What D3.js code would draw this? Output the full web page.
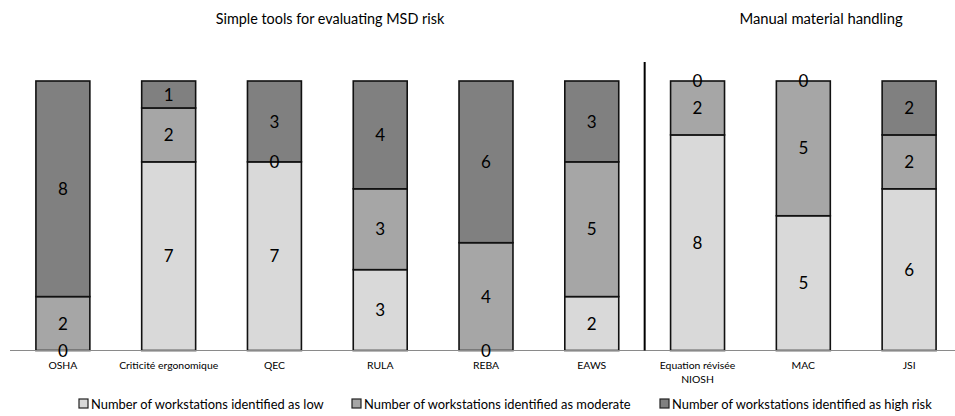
<!DOCTYPE html>
<html lang="en">
<head>
    <meta charset="UTF-8">
    <script src="https://cdn.jsdelivr.net/npm/d3@7"></script>
    <title>MSD risk tools</title>
    <style>
        body { margin: 0; background: white; }
        text { font-family: Lato, "Open Sans", sans-serif; fill: #000; }
    </style>
</head>
<body>
    <div id="chart"></div>
    <script>
        // data
        const tools = ["OSHA", "Criticité ergonomique", "QEC", "RULA", "REBA", "EAWS", "Equation révisée|NIOSH", "MAC", "JSI"];
        const lowCounts = [0, 7, 7, 3, 0, 2, 8, 5, 6];
        const moderateCounts = [2, 2, 0, 3, 4, 5, 2, 5, 2];
        const highCounts = [8, 1, 3, 4, 6, 3, 0, 0, 2];
        const seriesNames = [
            "Number of workstations identified as low",
            "Number of workstations identified as moderate",
            "Number of workstations identified as high risk"
        ];
        const groupTitles = ["Simple tools for evaluating MSD risk", "Manual material handling"];

        const width = 955, height = 416;
        const colors = ["#d9d9d9", "#a6a6a6", "#808080"];
        const keys = ["low", "moderate", "high"];

        const rows = tools.map((t, i) => ({
            tool: t, low: lowCounts[i], moderate: moderateCounts[i], high: highCounts[i]
        }));

        const svg = d3.select("#chart").append("svg")
            .attr("width", width)
            .attr("height", height);

        const x = d3.scaleBand()
            .domain(tools)
            .range([10, 962])
            .paddingInner(0.49)
            .paddingOuter(0.245);

        const y = d3.scaleLinear()
            .domain([0, 10])
            .range([350.5, 81]);

        const stacked = d3.stack().keys(keys)(rows);

        // bars
        const layers = svg.selectAll("g.layer")
            .data(stacked)
            .enter()
            .append("g")
            .attr("class", "layer")
            .attr("fill", (d, i) => colors[i]);

        layers.selectAll("rect")
            .data(d => d)
            .enter()
            .append("rect")
            .attr("x", d => x(d.data.tool))
            .attr("y", d => y(d[1]))
            .attr("width", x.bandwidth())
            .attr("height", d => y(d[0]) - y(d[1]))
            .attr("stroke", d => (d[1] - d[0]) > 0 ? "#111" : "none")
            .attr("stroke-width", 1.6);

        // axis line
        svg.append("line")
            .attr("x1", 10).attr("x2", width)
            .attr("y1", y(0)).attr("y2", y(0))
            .attr("stroke", "#8a8a8a")
            .attr("stroke-width", 1.2);

        // value labels, drawn after all bars so the zeros stay visible
        const labelGroups = svg.selectAll("g.labels")
            .data(stacked)
            .enter()
            .append("g")
            .attr("class", "labels");

        labelGroups.selectAll("text")
            .data(d => d)
            .enter()
            .append("text")
            .attr("x", d => x(d.data.tool) + x.bandwidth() / 2)
            .attr("y", d => (y(d[0]) + y(d[1])) / 2)
            .attr("dy", "0.36em")
            .attr("text-anchor", "middle")
            .attr("font-size", 17)
            .text(d => d[1] - d[0]);

        // divider between groups
        const divX = (x(tools[5]) + x.bandwidth() + x(tools[6])) / 2;
        svg.append("line")
            .attr("x1", divX).attr("x2", divX)
            .attr("y1", 62).attr("y2", y(0))
            .attr("stroke", "#000")
            .attr("stroke-width", 2);

        // group titles
        svg.append("text")
            .attr("x", 330).attr("y", 24)
            .attr("text-anchor", "middle")
            .attr("font-size", 14.4)
            .text(groupTitles[0]);
        svg.append("text")
            .attr("x", 821).attr("y", 24)
            .attr("text-anchor", "middle")
            .attr("font-size", 14.8)
            .text(groupTitles[1]);

        // category labels
        const catLabels = svg.selectAll("text.cat")
            .data(tools)
            .enter()
            .append("text")
            .attr("class", "cat")
            .attr("text-anchor", "middle")
            .attr("font-size", 10.4)
            .attr("y", 369);
        catLabels.each(function (d) {
            const parts = d.split("|");
            const cx = x(d) + x.bandwidth() / 2;
            d3.select(this).selectAll("tspan")
                .data(parts)
                .enter()
                .append("tspan")
                .attr("x", cx)
                .attr("dy", (p, i) => i === 0 ? 0 : 14)
                .text(p => p);
        });

        // legend
        const legendX = [79, 352, 660];
        const legend = svg.selectAll("g.legend")
            .data(seriesNames)
            .enter()
            .append("g")
            .attr("class", "legend")
            .attr("transform", (d, i) => `translate(${legendX[i]},399)`);
        legend.append("rect")
            .attr("width", 9).attr("height", 9)
            .attr("fill", (d, i) => colors[i])
            .attr("stroke", "#222")
            .attr("stroke-width", 1.2);
        legend.append("text")
            .attr("x", 12).attr("y", 9.5)
            .attr("font-size", 12.9)
            .text(d => d);
    </script>
</body>
</html>
